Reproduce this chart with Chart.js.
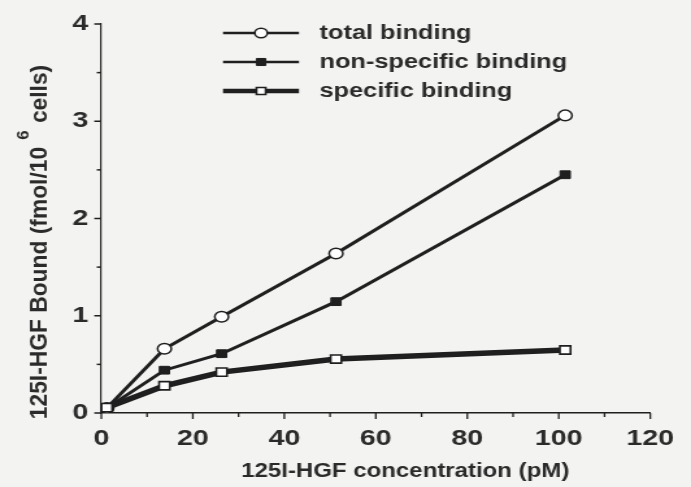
<!DOCTYPE html>
<html><head><meta charset="utf-8">
<script src="https://cdn.jsdelivr.net/npm/chart.js@4/dist/chart.umd.min.js"></script>
<style>
html,body{margin:0;padding:0;background:#f3f3f1;overflow:hidden}
canvas{display:block}
</style></head><body>
<canvas id="c" width="532" height="487" style="width:691px;height:487px"></canvas>
<script>
// ---- data ----
const xValues = [1.2, 13.8, 26.3, 51.3, 101.4];
const totalBinding = [0.05, 0.66, 0.99, 1.64, 3.06];
const nonSpecificBinding = [0.05, 0.44, 0.61, 1.145, 2.45];
const specificBinding = [0.055, 0.28, 0.42, 0.555, 0.648];
const seriesNames = ['total binding', 'non-specific binding', 'specific binding'];
const xTickLabels = [0, 20, 40, 60, 80, 100, 120];
const yTickLabels = [0, 1, 2, 3, 4];
const xTitle = '125I-HGF concentration (pM)';
const yTitleMain = '125I-HGF Bound (fmol/10';
const yTitleSup = '6';
const yTitleEnd = 'cells)';

const INK = '#1f1f1f';
const TEXT = '#2a2a2a';
const FONT = '"Liberation Sans", Arial, Helvetica, sans-serif';

const pts = ys => xValues.map((x, i) => ({x: x, y: ys[i]}));

const styles = [
  {lw: 3, ps: 'circle', r: 5.3, bg: '#ffffff', bw: 1.5},
  {lw: 3, ps: 'rect', r: 5.5, bg: INK, bw: 1},
  {lw: 5.5, ps: 'rect', r: 5.8, bg: '#ffffff', bw: 1.6}
];
const seriesData = [totalBinding, nonSpecificBinding, specificBinding];

const datasets = seriesNames.map((name, i) => ({
  label: name,
  data: pts(seriesData[i]),
  showLine: true,
  borderColor: INK,
  borderWidth: styles[i].lw,
  pointStyle: styles[i].ps,
  pointRadius: styles[i].r,
  pointBackgroundColor: styles[i].bg,
  pointBorderColor: INK,
  pointBorderWidth: styles[i].bw,
  tension: 0,
  order: 2 - i
}));

const tickMarks = {
  id: 'tickMarks',
  afterDraw(chart) {
    const ctx = chart.ctx, xs = chart.scales.x, ys = chart.scales.y;
    const a = chart.chartArea;
    ctx.save();
    ctx.strokeStyle = INK;
    ctx.lineWidth = 1.3;
    for (let v = xs.min; v <= xs.max + 1e-9; v += 10) {
      const px = xs.getPixelForValue(v);
      const len = (v % 20 === 0) ? 6 : 4;
      ctx.beginPath(); ctx.moveTo(px, a.bottom); ctx.lineTo(px, a.bottom + len); ctx.stroke();
    }
    ctx.lineWidth = 1.5;
    for (let v = ys.min; v <= ys.max + 1e-9; v += 0.5) {
      const py = ys.getPixelForValue(v);
      const len = (Math.abs(v - Math.round(v)) < 1e-9) ? 5.4 : 3.5;
      ctx.beginPath(); ctx.moveTo(a.left, py); ctx.lineTo(a.left - len, py); ctx.stroke();
    }
    ctx.restore();
  }
};

const legendAndTitles = {
  id: 'legendAndTitles',
  afterDraw(chart) {
    const ctx = chart.ctx;
    ctx.save();
    // legend
    const rows = [33, 62, 91];
    const x1 = 171.7, x2 = 230.2, mx = 201, tx = 246;
    rows.forEach((y, i) => {
      const s = styles[i];
      ctx.strokeStyle = INK;
      ctx.lineWidth = (i === 2) ? 4.5 : 2.4;
      ctx.beginPath(); ctx.moveTo(x1, y); ctx.lineTo(x2, y); ctx.stroke();
      ctx.fillStyle = s.bg; ctx.strokeStyle = INK; ctx.lineWidth = s.bw;
      ctx.beginPath();
      if (s.ps === 'circle') { ctx.arc(mx, y, 4.8, 0, Math.PI * 2); }
      else { const h = 5 * Math.SQRT1_2; ctx.rect(mx - h, y - h, 2 * h, 2 * h); }
      ctx.fill(); ctx.stroke();
      ctx.fillStyle = TEXT;
      ctx.font = 'bold 19.5px ' + FONT;
      ctx.textBaseline = 'middle';
      ctx.textAlign = 'left';
      ctx.fillText(seriesNames[i], tx, y + 1);
    });
    // x title
    ctx.save();
    ctx.fillStyle = TEXT;
    ctx.font = 'bold 21px ' + FONT;
    ctx.textAlign = 'center';
    ctx.textBaseline = 'alphabetic';
    ctx.translate(312, 477);
    ctx.scale(0.88, 1);
    ctx.fillText(xTitle, 0, 0);
    ctx.restore();
    // y title (rotated, with superscript)
    ctx.fillStyle = TEXT;
    ctx.translate(31, 242);
    ctx.rotate(-Math.PI / 2);
    ctx.scale(1.2, 0.92);
    const fMain = 'bold 19px ' + FONT, fSup = 'bold 14px ' + FONT;
    ctx.font = fMain;
    const w1 = ctx.measureText(yTitleMain).width;
    const w3 = ctx.measureText(yTitleEnd).width;
    ctx.font = fSup;
    const w2 = ctx.measureText(yTitleSup).width;
    const gap = 6;
    const total = w1 + gap + w2 + gap + w3;
    let cx = -total / 2;
    ctx.textAlign = 'left';
    ctx.font = fMain; ctx.fillText(yTitleMain, cx, 0); cx += w1 + gap;
    ctx.font = fSup; ctx.fillText(yTitleSup, cx, -14); cx += w2 + gap;
    ctx.font = fMain; ctx.fillText(yTitleEnd, cx, 0);
    ctx.restore();
  }
};

new Chart(document.getElementById('c'), {
  type: 'scatter',
  data: {datasets: datasets},
  options: {
    responsive: false,
    animation: false,
    devicePixelRatio: 1,
    layout: {padding: {top: 24, right: 30, left: 0, bottom: 0}},
    plugins: {legend: {display: false}, tooltip: {enabled: false}, title: {display: false}},
    scales: {
      x: {
        type: 'linear', position: 'bottom', min: 0, max: 120,
        afterFit: s => { s.height = 74; },
        ticks: {
          stepSize: 10, autoSkip: false, maxRotation: 0, padding: 13,
          color: TEXT, font: {size: 22, family: FONT, weight: 'bold'},
          callback: v => xTickLabels.includes(v) ? String(v) : ''
        },
        grid: {display: true, drawOnChartArea: false, drawTicks: false},
        border: {display: true, color: INK, width: 1.5}
      },
      y: {
        type: 'linear', position: 'left', min: 0, max: 4,
        afterFit: s => { s.width = 78; },
        ticks: {
          stepSize: 0.5, autoSkip: false, padding: 10,
          color: TEXT, font: {size: 22, family: FONT, weight: 'bold'},
          callback: v => yTickLabels.includes(v) ? String(v) : ''
        },
        grid: {display: true, drawOnChartArea: false, drawTicks: false},
        border: {display: true, color: INK, width: 1.2}
      }
    }
  },
  plugins: [tickMarks, legendAndTitles]
});
</script>
</body></html>
